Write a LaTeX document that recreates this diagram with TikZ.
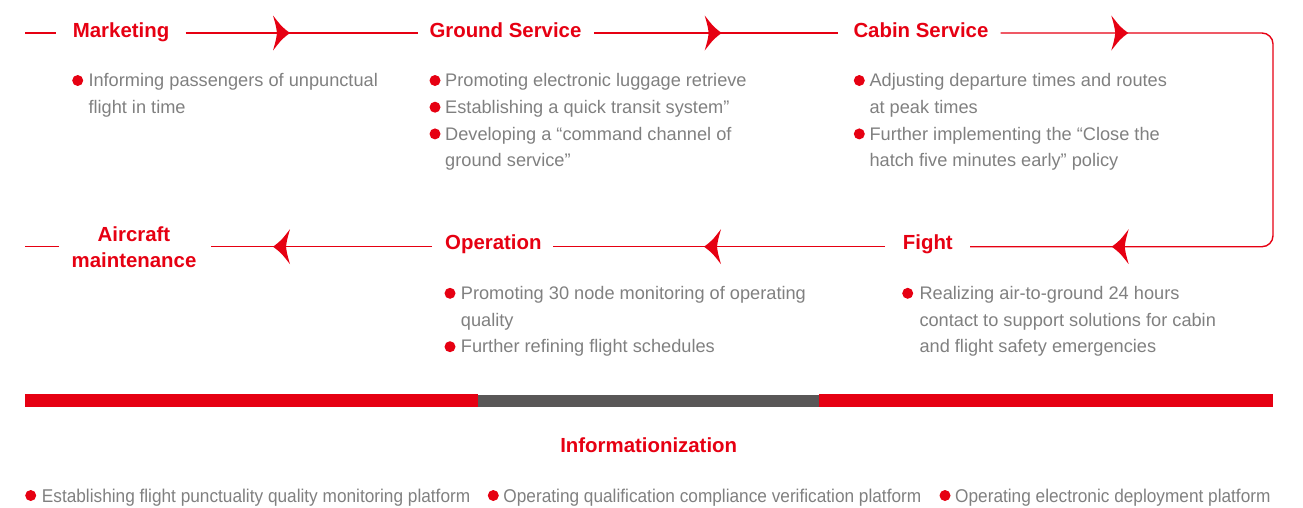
\documentclass[tikz,border=0pt]{standalone}
\usepackage{fontspec}
\setmainfont{Liberation Sans}
\definecolor{cred}{HTML}{E60012}
\definecolor{ctxt}{HTML}{808080}
\definecolor{cbar}{HTML}{595757}
\tikzset{
  head/.style={text=cred,font=\fontsize{20.4}{25.6}\selectfont\bfseries,inner sep=0,anchor=base west},
  body/.style={text=ctxt,font=\fontsize{18.2}{22}\selectfont,inner sep=0,anchor=base west},
  foot/.style={text=ctxt,font=\fontsize{18.5}{22}\selectfont,inner sep=0,anchor=base west,xscale=0.932},
  dot/.style={circle,fill=cred,inner sep=0,minimum size=11},
  flow/.style={draw=cred,line width=1.4},
  dart/.pic={\fill[cred] (0,0) .. controls (-8,-6) .. (-17,-17.5) .. controls (-14,-7) .. (-13,0)
             .. controls (-14,7) .. (-17,17.5) .. controls (-8,6) .. (0,0) -- cycle;}
}
\begin{document}
\begin{tikzpicture}[x=1pt,y=-1pt]
\useasboundingbox (0,0) rectangle (1303,507);

% headings
\node[head] (mk) at (72.7,37) {Marketing};
\node[head] (gs) at (429.3,37) {Ground Service};
\node[head] (cs) at (853.3,37) {Cabin Service};
\node[head,anchor=center,align=center] (am) at (134,247.2) {Aircraft\\maintenance};
\node[head] (op) at (445,249.3) {Operation};
\node[head] (ft) at (902.7,249) {Fight};
\node[head,anchor=base] (info) at (648.7,452.3) {Informationization};

% connector coordinates
\coordinate (a0) at (25,33);
\coordinate (a1) at (56,33);
\coordinate (a2) at (185.7,33);
\coordinate (a3) at (418.3,33);
\coordinate (a4) at (594,33);
\coordinate (a5) at (838.3,33);
\coordinate (a6) at (1000.7,33);
\coordinate (c1) at (1273,33);
\coordinate (c2) at (1273,246.7);
\coordinate (b6) at (970,246.7);
\coordinate (b5) at (885,246.7);
\coordinate (b4) at (553.3,246.7);
\coordinate (b3) at (432,246.7);
\coordinate (b2) at (210.7,246.7);
\coordinate (b1) at (59,246.7);
\coordinate (b0) at (25,246.7);

\draw[flow] (a0) -- (a1);
\draw[flow] (a2) -- (a3);
\draw[flow] (a4) -- (a5);
\draw[flow,rounded corners=11] (a6) -- (c1) -- (c2) -- (b6);
\draw[flow] (b5) -- (b4);
\draw[flow] (b3) -- (b2);
\draw[flow] (b1) -- (b0);

% arrowheads
\pic at (290,33) {dart};
\pic at (721.7,33) {dart};
\pic at (1128.3,33) {dart};
\pic[xscale=-1] at (1111.7,246.7) {dart};
\pic[xscale=-1] at (704,246.7) {dart};
\pic[xscale=-1] at (273,246.7) {dart};

% Marketing
\node[dot] (d1) at (77.7,80.5) {};
\node[body] (t1a) at (88.3,86.7) {Informing passengers of unpunctual};
\node[body] (t1b) at (88.3,113.4) {flight in time};

% Ground Service
\node[dot] (d2a) at (435,80.5) {};
\node[dot] (d2b) at (435,107.2) {};
\node[dot] (d2c) at (435,133.9) {};
\node[body] (t2a) at (445,86.7) {Promoting electronic luggage retrieve};
\node[body] (t2b) at (445,113.4) {Establishing a quick transit system”};
\node[body] (t2c) at (445,140.1) {Developing a “command channel of};
\node[body] (t2d) at (445,166.8) {ground service”};

% Cabin Service
\node[dot] (d3a) at (859.3,80.5) {};
\node[dot] (d3b) at (859.3,133.9) {};
\node[body] (t3a) at (869.3,86.7) {Adjusting departure times and routes};
\node[body] (t3b) at (869.3,113.4) {at peak times};
\node[body] (t3c) at (869.3,140.1) {Further implementing the “Close the};
\node[body] (t3d) at (869.3,166.8) {hatch five minutes early” policy};

% Operation
\node[dot] (d4a) at (450,293.3) {};
\node[dot] (d4b) at (450,346.7) {};
\node[body] (t4a) at (460.7,299.5) {Promoting 30 node monitoring of operating};
\node[body] (t4b) at (460.7,326.2) {quality};
\node[body] (t4c) at (460.7,352.9) {Further refining flight schedules};

% Fight
\node[dot] (d5a) at (907.7,293.3) {};
\node[body] (t5a) at (919.3,299.5) {Realizing air-to-ground 24 hours};
\node[body] (t5b) at (919.3,326.2) {contact to support solutions for cabin};
\node[body] (t5c) at (919.3,352.9) {and flight safety emergencies};

% bar
\fill[cred] (25,394) rectangle (478.3,407.3);
\fill[cbar] (478.3,395) rectangle (819.3,406.7);
\fill[cred] (819.3,394) rectangle (1273,407.3);

% footer
\node[dot] (d6a) at (30.7,495.5) {};
\node[dot] (d6b) at (493.3,495.5) {};
\node[dot] (d6c) at (945,495.5) {};
\node[foot] (f1) at (41.7,502.5) {Establishing flight punctuality quality monitoring platform};
\node[foot] (f2) at (503.3,502.5) {Operating qualification compliance verification platform};
\node[foot] (f3) at (955,502.5) {Operating electronic deployment platform};
\end{tikzpicture}
\end{document}
